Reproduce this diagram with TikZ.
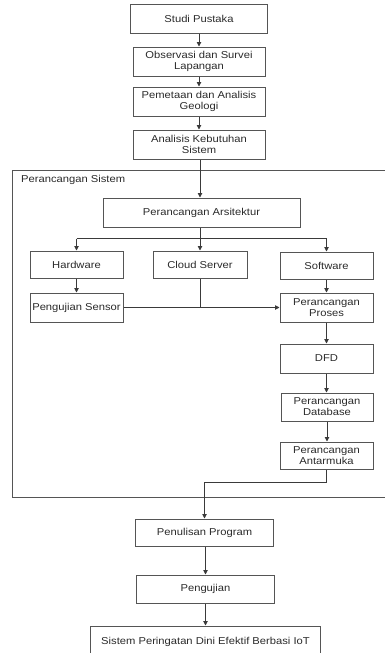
\documentclass[tikz,border=0pt]{standalone}
\usepackage{fontspec}
\setmainfont[FakeStretch=1.12]{Liberation Sans}
\usetikzlibrary{arrows.meta}
\definecolor{ln}{HTML}{3A3A3A}
\definecolor{bx}{HTML}{555555}
\definecolor{tx}{HTML}{2A2A2A}
\tikzset{
  box/.style={draw=bx, line width=1pt, inner sep=0pt, align=center, text=tx,
    font=\fontsize{10}{11}\selectfont},
  con/.style={draw=ln, line width=0.9pt},
  arr/.style={con, -{Triangle[length=4.5pt,width=4.5pt]}},
}
\begin{document}
\begin{tikzpicture}[x=1pt,y=-1pt]
\useasboundingbox (0,0) rectangle (385,653);
% frame
\draw[draw=bx, line width=1pt] (12,170) rectangle (392,497);
\node[anchor=west, text=tx, font=\fontsize{10}{11}\selectfont, inner sep=0pt] (lab) at (21,180) {Perancangan Sistem};
% top chain
\node[box, minimum width=137pt, minimum height=29pt] (studi) at (199,18.5) {Studi Pustaka};
\node[box, minimum width=132pt, minimum height=29pt] (obs) at (199,61.5) {Observasi dan Survei\\Lapangan};
\node[box, minimum width=132pt, minimum height=29pt] (pem) at (199,101.5) {Pemetaan dan Analisis\\Geologi};
\node[box, minimum width=132pt, minimum height=29pt] (ana) at (199,144.5) {Analisis Kebutuhan\\Sistem};
\node[box, minimum width=197pt, minimum height=29pt] (arsi) at (201.5,212.5) {Perancangan Arsitektur};
\node[box, minimum width=93pt, minimum height=27pt] (hw) at (76.5,264.5) {Hardware};
\node[box, minimum width=94pt, minimum height=27pt] (cloud) at (200,264.5) {Cloud Server};
\node[box, minimum width=93pt, minimum height=27pt] (sw) at (326.5,265.5) {Software};
\node[box, minimum width=93pt, minimum height=29pt] (sensor) at (76.5,307.5) {Pengujian Sensor};
\node[box, minimum width=93pt, minimum height=29pt] (proses) at (326.5,307.5) {Perancangan\\Proses};
\node[box, minimum width=93pt, minimum height=29pt] (dfd) at (326.5,358.5) {DFD};
\node[box, minimum width=92pt, minimum height=28pt] (db) at (327,407) {Perancangan\\Database};
\node[box, minimum width=93pt, minimum height=27pt] (ui) at (326.5,455.5) {Perancangan\\Antarmuka};
\node[box, minimum width=138pt, minimum height=27pt] (prog) at (204.5,532.5) {Penulisan Program};
\node[box, minimum width=138pt, minimum height=28pt] (uji) at (205.5,589) {Pengujian};
\node[box, minimum width=230pt, minimum height=32pt] (sis) at (205.5,642) {Sistem Peringatan Dini Efektif Berbasi IoT};
% connectors
\draw[arr] (studi.south -| obs) -- (obs.north);
\draw[arr] (obs.south) -- (pem.north);
\draw[arr] (pem.south) -- (ana.north);
\draw[arr] ([xshift=1pt]ana.south) -- ([xshift=1pt]ana.south |- arsi.north);
\draw[con] ([xshift=-1.5pt]arsi.south) -- ++(0,11) coordinate (br);
\draw[con] (br -| hw) -- (br -| sw);
\draw[arr] (br -| hw) -- (hw.north);
\draw[arr] (br) -- (br |- cloud.north);
\draw[arr] (br -| sw) -- (sw.north);
\draw[arr] (hw.south) -- (sensor.north);
\draw[con] (cloud.south) -- (cloud.south |- sensor.east);
\draw[arr] (sensor.east) -- (proses.west);
\draw[arr] (sw.south) -- (proses.north);
\draw[arr] (proses.south) -- (dfd.north);
\draw[arr] (dfd.south) -- (db.north -| dfd);
\draw[arr] (db.south) -- (ui.north -| db);
\draw[arr] (ui.south) -- ++(0,13) coordinate (uc) -| (prog.north);
\draw[arr] (prog.south -| uji) -- (uji.north);
\draw[arr] (uji.south) -- (sis.north);
\end{tikzpicture}
\end{document}
